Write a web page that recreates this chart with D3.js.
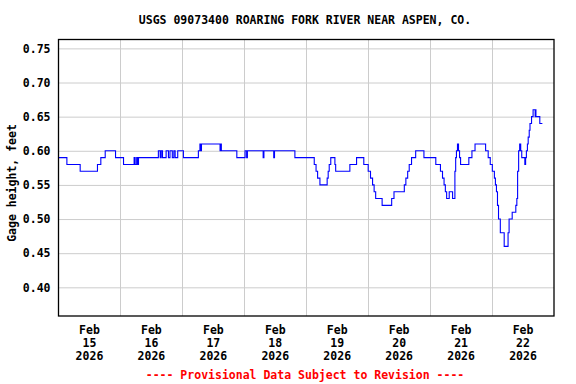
<!DOCTYPE html>
<html>
<head>
<meta charset="utf-8">
<script src="https://cdn.jsdelivr.net/npm/d3@7"></script>
<style>
  body { margin: 0; background: #fff; }
  text { font-family: "DejaVu Sans Mono", "Liberation Mono", monospace; font-weight: bold; }
</style>
</head>
<body>
<svg id="chart" width="576" height="384"></svg>
<script>
// hours after Feb 15 2026 00:00, and the gage height that starts there
var hours = [0, 3.25, 8.4, 15.1, 16.4, 18.1, 22.1, 25.2, 29.3, 29.7, 30.3, 30.6, 31.0,
  38.7, 39.4, 39.8, 40.3, 41.7, 42.6, 43.2, 44.1, 44.7, 45.2, 46.2, 48.4,
  54.2, 54.8, 55.1, 55.4, 62.6, 62.8, 63.1, 69.1, 72.3, 72.9, 73.2, 79.3, 79.6, 83.4, 83.7,
  91.6, 99.1, 99.8, 100.4, 101.3, 102.6, 104.1, 104.5, 104.9, 105.5, 107.1, 107.4, 107.8,
  112.9, 115.5, 118.3, 120.0, 120.9, 121.7, 122.3, 122.9, 125.4, 129.1, 130.0,
  134.0, 134.6, 135.3, 135.9, 136.8, 138.4, 141.6, 146.2, 148.0, 148.8, 149.4, 149.9,
  150.4, 151.4, 152.7, 153.6, 153.9, 154.2, 154.6, 155.0, 155.4, 155.8, 156.4, 159.0,
  160.2, 161.4, 165.5, 166.5, 167.3, 168.1, 168.9, 169.3, 169.7, 170.1, 170.5, 171.2,
  172.7, 174.2, 174.6, 175.8, 177.2, 177.6, 177.9, 178.3, 178.7, 179.1, 179.5, 180.7,
  181.0, 181.3, 181.7, 182.0, 182.4, 182.7, 183.3, 183.9, 184.7, 184.9, 185.0, 185.2,
  186.5, 187.5]
var heights = [0.59, 0.58, 0.57, 0.58, 0.59, 0.60, 0.59, 0.58, 0.59, 0.58, 0.59, 0.58, 0.59,
  0.60, 0.59, 0.60, 0.59, 0.60, 0.59, 0.60, 0.59, 0.60, 0.59, 0.60, 0.59,
  0.60, 0.61, 0.60, 0.61, 0.60, 0.61, 0.60, 0.59, 0.60, 0.59, 0.60, 0.59, 0.60, 0.59, 0.60,
  0.59, 0.58, 0.57, 0.56, 0.55, 0.55, 0.56, 0.57, 0.58, 0.59, 0.58, 0.57, 0.57,
  0.58, 0.59, 0.58, 0.57, 0.56, 0.55, 0.54, 0.53, 0.52, 0.53, 0.54,
  0.55, 0.56, 0.57, 0.58, 0.59, 0.60, 0.59, 0.58, 0.57, 0.56, 0.55,
  0.54, 0.53, 0.54, 0.53, 0.57, 0.59, 0.60, 0.61, 0.60, 0.59, 0.58, 0.58,
  0.59, 0.60, 0.61, 0.60, 0.59, 0.58, 0.57, 0.56, 0.55, 0.54, 0.52, 0.50, 0.48,
  0.46, 0.48, 0.50, 0.51, 0.52, 0.53, 0.57, 0.60, 0.61, 0.60, 0.59, 0.58,
  0.59, 0.60, 0.61, 0.62, 0.63, 0.64, 0.65, 0.66, 0.65, 0.66, 0.65, 0.65,
  0.64, 0.64]
var yTicks = [0.40, 0.45, 0.50, 0.55, 0.60, 0.65, 0.70, 0.75]
var dayLabels = ["15", "16", "17", "18", "19", "20", "21", "22"]

var title = "USGS 09073400 ROARING FORK RIVER NEAR ASPEN, CO."
var yTitle = "Gage height, feet"
var footer = "---- Provisional Data Subject to Revision ----"

var start = Date.UTC(2026, 1, 15)
var data = hours.map(function(h, i) {
  return { t: new Date(start + h * 3600e3), v: heights[i] }
})

var pl = 58.5, pr = 554, pt = 39.5, pb = 316

var svg = d3.select("#chart")

var x = d3.scaleUtc()
  .domain([new Date(start), new Date(Date.UTC(2026, 1, 23))])
  .range([pl, pr])
var y = d3.scaleLinear()
  .domain([0.358, 0.763])
  .range([pb, pt])

// grid
var days = d3.utcDay.range(new Date(Date.UTC(2026, 1, 16)), new Date(Date.UTC(2026, 1, 23)))
svg.append("g")
   .selectAll("line")
   .data(days)
   .enter()
   .append("line")
   .attr("x1", function(d) { return Math.round(x(d)) + 0.5 })
   .attr("x2", function(d) { return Math.round(x(d)) + 0.5 })
   .attr("y1", pt)
   .attr("y2", pb)
   .attr("stroke", "#cccccc")
   .attr("stroke-width", 1)

var yAxis = d3.axisLeft(y)
  .tickValues(yTicks)
  .tickSize(-(pr - pl))
  .tickFormat(d3.format(".2f"))
  .tickPadding(8)
var gy = svg.append("g")
  .attr("transform", "translate(" + pl + ",0)")
  .call(yAxis)
gy.select(".domain").remove()
gy.selectAll(".tick line").attr("stroke", "#cccccc")
gy.selectAll(".tick text")
  .attr("font-size", "11.5px")
  .attr("fill", "#000")
  .attr("x", -8)

// series
var line = d3.line()
  .x(function(d) { return x(d.t) })
  .y(function(d) { return y(d.v) })
  .curve(d3.curveStepAfter)
svg.append("path")
   .datum(data)
   .attr("d", line)
   .attr("fill", "none")
   .attr("stroke", "#0000ff")
   .attr("stroke-width", 1.1)

// frame
svg.append("rect")
   .attr("x", pl)
   .attr("y", pt)
   .attr("width", pr - pl)
   .attr("height", pb - pt)
   .attr("fill", "none")
   .attr("stroke", "#000")
   .attr("stroke-width", 1.3)

// x labels at midday
var noons = dayLabels.map(function(d, i) { return new Date(start + (i * 24 + 12) * 3600e3) })
var xl = svg.append("g")
  .selectAll("text")
  .data(noons)
  .enter()
  .append("text")
  .attr("text-anchor", "middle")
  .attr("font-size", "11.5px")
  .attr("fill", "#000")
xl.each(function(d, i) {
  var t = d3.select(this)
  var lines = ["Feb", dayLabels[i], "2026"]
  lines.forEach(function(s, k) {
    t.append("tspan")
     .attr("x", x(d))
     .attr("y", 334 + k * 12.8)
     .text(s)
  })
})

svg.append("text")
   .attr("x", 305)
   .attr("y", 24)
   .attr("text-anchor", "middle")
   .attr("font-size", "11.5px")
   .text(title)

svg.append("text")
   .attr("transform", "translate(16,183) rotate(-90)")
   .attr("text-anchor", "middle")
   .attr("font-size", "11.5px")
   .text(yTitle)

svg.append("text")
   .attr("x", 305)
   .attr("y", 379)
   .attr("text-anchor", "middle")
   .attr("font-size", "11.5px")
   .attr("fill", "#ff0000")
   .text(footer)
</script>
</body>
</html>
